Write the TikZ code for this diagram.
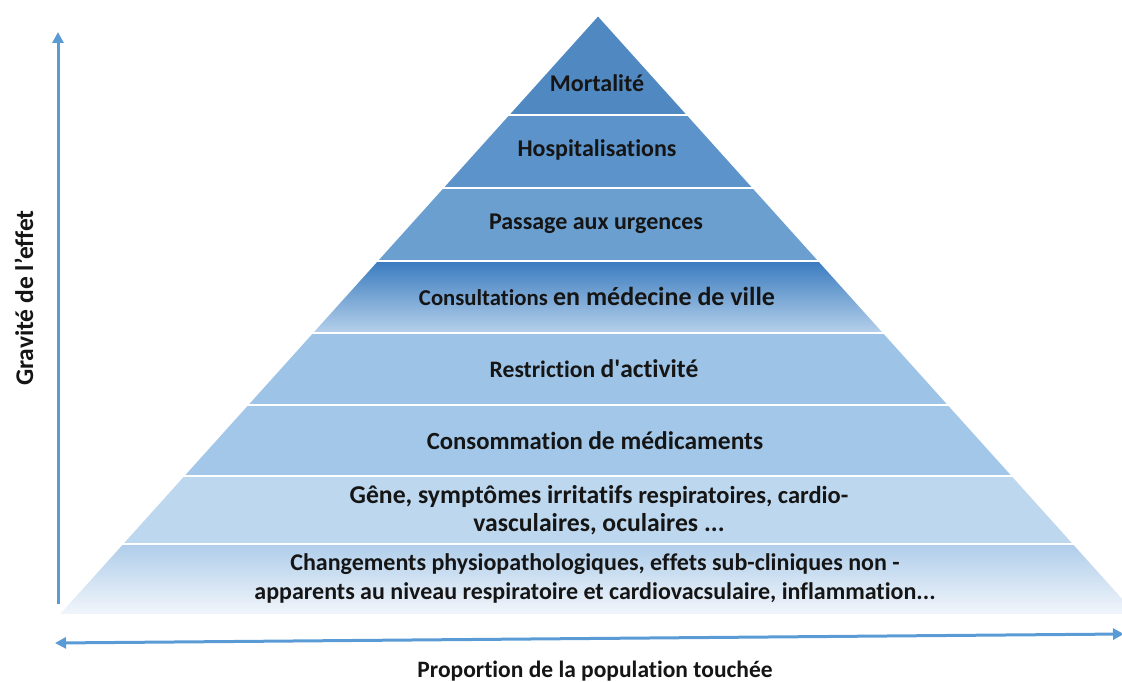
\documentclass[tikz,border=0pt]{standalone}
\usepackage{fontspec}
\setmainfont{Carlito}[Ligatures={TeX,NoCommon}]
\usetikzlibrary{arrows.meta}
\definecolor{axisblue}{HTML}{5B9BD5}
\definecolor{txt}{HTML}{151515}
\newcommand{\taille}[1]{\fontsize{#1}{28}\selectfont}

\begin{document}
\begin{tikzpicture}[x=1pt,y=-1pt,
    layer/.style={draw=white,line width=1.8pt,line join=miter},
    lbl/.style={font=\bfseries\taille{24},text=txt,align=center,inner sep=0pt},
    axis/.style={draw=axisblue,line width=3pt,-{Triangle[length=11pt,width=11pt]}}]
  \useasboundingbox (0,0) rectangle (1122,682);

  \begin{scope}
    \clip (0,0) rectangle (1122,682);
    % sommet
    \fill[layer,fill={rgb,255:red,80;green,137;blue,194}]
      (598,15) -- ({598+0.9*100},115) -- ({598-0.9*100},115) -- cycle;
    % couches pleines
    \foreach \ya/\yb/\col in {115/188/{rgb,255:red,91;green,147;blue,202},
                              188/261/{rgb,255:red,106;green,159;blue,208},
                              333/405/{rgb,255:red,157;green,195;blue,230},
                              405/476/{rgb,255:red,163;green,199;blue,232},
                              476/544/{rgb,255:red,189;green,215;blue,238}}
      \fill[layer,fill=\col]
        ({598-0.9*(\ya-15)},\ya) -- ({598+0.9*(\ya-15)},\ya)
        -- ({598+0.9*(\yb-15)},\yb) -- ({598-0.9*(\yb-15)},\yb) -- cycle;
    % couches en degrade
    \shade[layer,top color={rgb,255:red,58;green,123;blue,191},bottom color={rgb,255:red,182;green,209;blue,235}]
      ({598-0.9*246},261) -- ({598+0.9*246},261) -- ({598+0.9*318},333) -- ({598-0.9*318},333) -- cycle;
    \shade[layer,top color={rgb,255:red,175;green,205;blue,234},bottom color={rgb,255:red,242;green,246;blue,251}]
      ({598-0.9*529},544) -- ({598+0.9*529},544) -- ({598+0.9*600},615) -- ({598-0.9*600},615) -- cycle;
  \end{scope}

  \node[lbl] (mort) at (597,83) {Mortalité};
  \node[lbl] (hosp) at (597,150) {Hospitalisations};
  \node[lbl] (urg) at (596,224) {Passage aux urgences};
  \node[lbl] (consult) at (597,296) {{\taille{22.7}Consultations} {\taille{26}en médecine de ville}};
  \node[lbl] (restr) at (594,369) {{\taille{23.6}Restriction} {\taille{25.5}d\textquotesingle activité}};
  \node[lbl] (medic) at (595,441) {{\taille{24.7}Consommation} {\taille{25.5}de médicaments}};
  \node[lbl,font=\bfseries\taille{25.7}] (gene) at (599,510)
    {Gêne, symptômes irritatifs {\taille{24.5}respiratoires, cardio-}\\vasculaires, oculaires ...};
  \node[lbl,font=\bfseries\fontsize{24}{29}\selectfont] (chgt) at (595,578)
    {Changements physiopathologiques, effets sub-cliniques non -\\apparents au niveau respiratoire et cardiovacsulaire, inflammation...};

  % axes
  \coordinate (bas) at (58,604);
  \coordinate (haut) at (58,32);
  \coordinate (gauche) at (55,643);
  \coordinate (droite) at (1124,634);
  \draw[axis] (bas) -- (haut);
  \draw[axis,{Triangle[length=11pt,width=11pt]}-{Triangle[length=11pt,width=11pt]}] (droite) -- (gauche);

  \node[lbl,rotate=90,font=\bfseries\taille{25.5}] (grav) at (24,298) {Gravité de l’effet};
  \node[lbl,font=\bfseries\taille{23.5}] (prop) at (595,671) {Proportion de la population touchée};
\end{tikzpicture}
\end{document}
